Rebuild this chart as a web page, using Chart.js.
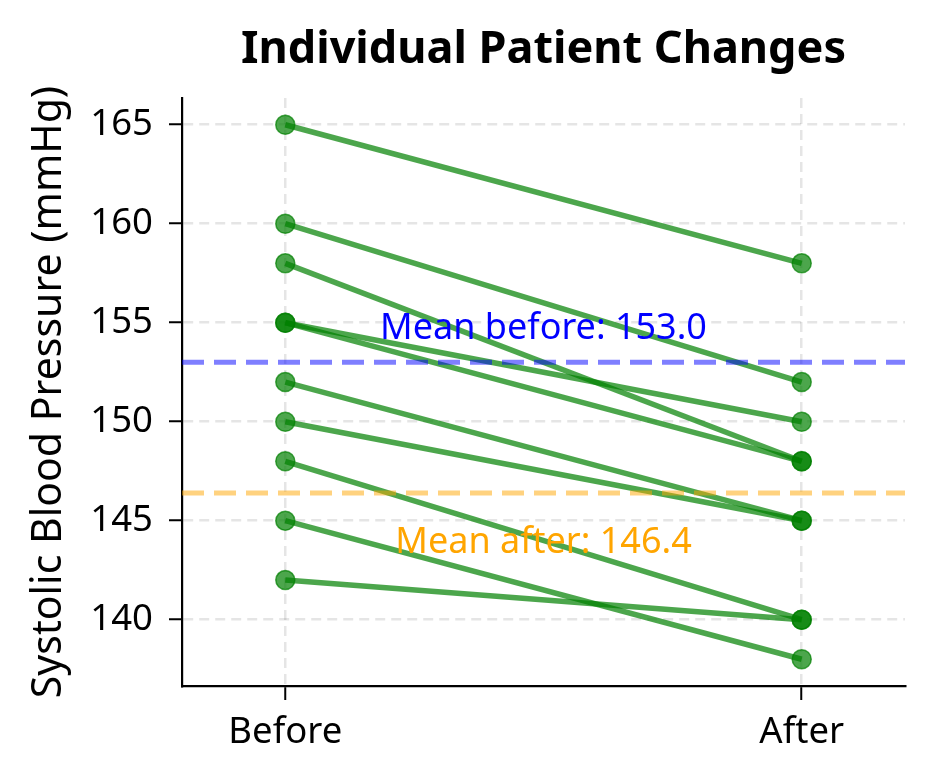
<!DOCTYPE html>
<html>
<head>
<meta charset="utf-8">
<script src="https://cdn.jsdelivr.net/npm/chart.js@4.4.1/dist/chart.umd.min.js"></script>
<style>
  html, body { margin: 0; padding: 0; background: #fff; }
  #wrap { width: 934px; height: 784px; }
</style>
</head>
<body>
<div id="wrap"><canvas id="pairedChart" width="934" height="784"></canvas></div>
<script>
const timepoints = ['Before', 'After'];
const beforeValues = [165, 160, 158, 155, 155, 152, 150, 148, 145, 142];
const afterValues = [158, 152, 148, 150, 148, 145, 145, 140, 138, 140];
const yTicks = [140, 145, 150, 155, 160, 165];

const meanBefore = beforeValues.reduce((a, b) => a + b, 0) / beforeValues.length;
const meanAfter = afterValues.reduce((a, b) => a + b, 0) / afterValues.length;

const FONT = '"Noto Sans", sans-serif';
const green = 'rgba(0, 128, 0, 0.7)';

const patientSets = beforeValues.map((b, i) => ({
  label: 'Patient ' + (i + 1),
  data: [{ x: 0, y: b }, { x: 1, y: afterValues[i] }],
  borderColor: green,
  backgroundColor: green,
  pointBackgroundColor: green,
  pointBorderColor: green,
  borderWidth: 5.5,
  pointRadius: 9.5,
  pointBorderWidth: 1.5,
  showLine: true,
  order: 2
}));

const meanLine = (value, color) => ({
  label: 'mean',
  data: [{ x: -0.2, y: value }, { x: 1.2, y: value }],
  borderColor: color,
  borderWidth: 5,
  borderDash: [22, 10],
  pointRadius: 0,
  showLine: true,
  order: 1
});

// text labels for the means, drawn at data coordinates
const meanLabels = {
  id: 'meanLabels',
  afterDatasetsDraw(chart) {
    const { ctx, scales } = chart;
    ctx.save();
    ctx.font = '36px ' + FONT;
    ctx.textAlign = 'center';
    ctx.textBaseline = 'middle';
    ctx.fillStyle = 'blue';
    ctx.fillText('Mean before: ' + meanBefore.toFixed(1), scales.x.getPixelForValue(0.5), scales.y.getPixelForValue(meanBefore + 1.68));
    ctx.fillStyle = 'orange';
    ctx.fillText('Mean after: ' + meanAfter.toFixed(1), scales.x.getPixelForValue(0.5), scales.y.getPixelForValue(meanAfter - 2.5));
    ctx.restore();
  }
};

const gridOpts = {
  color: 'rgba(0,0,0,0.1)',
  lineWidth: 2.5,
  tickColor: '#000',
  tickWidth: 2,
  tickBorderDash: []
};

new Chart(document.getElementById('pairedChart').getContext('2d'), {
  type: 'scatter',
  data: {
    datasets: [
      meanLine(meanBefore, 'rgba(0, 0, 255, 0.5)'),
      meanLine(meanAfter, 'rgba(255, 165, 0, 0.5)'),
      ...patientSets
    ]
  },
  options: {
    responsive: false,
    animation: false,
    layout: { padding: { top: 0, right: 29, bottom: 0, left: 0 } },
    plugins: {
      legend: { display: false },
      tooltip: { enabled: false },
      title: {
        display: true,
        text: 'Individual Patient Changes',
        fullSize: false,
        color: '#000',
        font: { family: FONT, size: 45, weight: 'bold' },
        padding: { top: 23, bottom: 21 }
      }
    },
    scales: {
      x: {
        type: 'linear',
        min: -0.2,
        max: 1.2,
        afterBuildTicks: s => { s.ticks = timepoints.map((t, i) => ({ value: i })); },
        afterFit: s => { s.height = 98; },
        ticks: {
          callback: v => timepoints[v],
          color: '#000',
          font: { family: FONT, size: 36.5 },
          padding: 11,
          maxRotation: 0
        },
        grid: Object.assign({ tickLength: 14 }, gridOpts),
        border: { color: '#000', width: 2.2, dash: [10, 6] }
      },
      y: {
        min: 136.65,
        max: 166.35,
        afterBuildTicks: s => { s.ticks = yTicks.map(v => ({ value: v })); },
        afterFit: s => { s.width = 182; },
        ticks: {
          color: '#000',
          font: { family: FONT, size: 36.5 },
          padding: 16
        },
        title: {
          display: true,
          text: 'Systolic Blood Pressure (mmHg)',
          color: '#000',
          font: { family: FONT, size: 41 },
          padding: { top: 25, bottom: 6 }
        },
        grid: Object.assign({ tickLength: 13 }, gridOpts),
        border: { color: '#000', width: 2.2, dash: [10, 6] }
      }
    }
  },
  plugins: [meanLabels]
});
</script>
</body>
</html>
